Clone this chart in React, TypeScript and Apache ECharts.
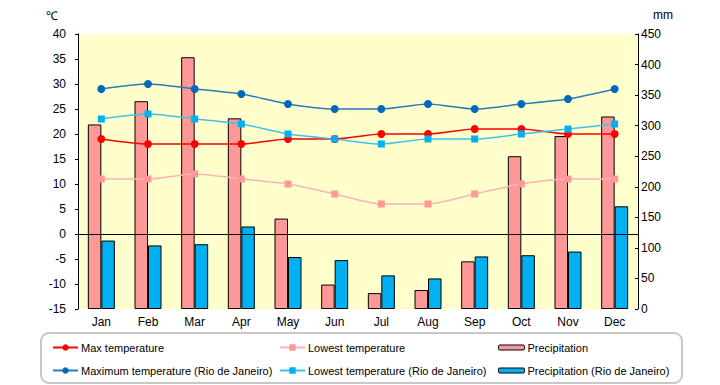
import React, { useEffect, useRef } from "react";
import * as echarts from "echarts";

const months = ["Jan", "Feb", "Mar", "Apr", "May", "Jun", "Jul", "Aug", "Sep", "Oct", "Nov", "Dec"];
const maxTemp = [19, 18, 18, 18, 19, 19, 20, 20, 21, 21, 20, 20];
const lowTemp = [11, 11, 12, 11, 10, 8, 6, 6, 8, 10, 11, 11];
const rioMaxTemp = [29, 30, 29, 28, 26, 25, 25, 26, 25, 26, 27, 29];
const rioLowTemp = [23, 24, 23, 22, 20, 19, 18, 19, 19, 20, 21, 22];
const precip = [302, 340, 412, 312, 148, 40, 26, 31, 78, 250, 283, 315];
const rioPrecip = [112, 104, 106, 135, 85, 80, 55, 50, 86, 88, 94, 168];

const FONT = "Liberation Sans";

export default function App() {
  const ref = useRef<HTMLDivElement>(null);
  useEffect(() => {
    document.body.style.margin = "0";
    const chart = echarts.init(ref.current!, undefined, { renderer: "svg" });
    const textStyle = { fontFamily: FONT, fontSize: 12, color: "#000" };
    const legendBase = {
      padding: 0,
      itemGap: 0,
      itemWidth: 25,
      itemHeight: 8,
      textStyle: { fontFamily: FONT, fontSize: 11, color: "#000", padding: [0, 0, 0, -2] },
      selectedMode: false,
    };
    const barLegend = {
      ...legendBase,
      itemWidth: 26,
      itemHeight: 5,
      itemStyle: { borderWidth: 1, borderColor: "#000" },
    };
    const lineSeries = (name: string, data: number[], color: string, lineColor: string, symbol: string, size: number) => ({
      name,
      type: "line",
      yAxisIndex: 0,
      data,
      smooth: 0.25,
      symbol,
      symbolSize: size,
      itemStyle: { color },
      lineStyle: { color: lineColor, width: 1.5 },
      z: 3,
    });
    chart.setOption({
      animation: false,
      textStyle,
      grid: {
        left: 78,
        right: 82,
        top: 34,
        bottom: 76,
        show: true,
        backgroundColor: "#ffffcc",
        borderWidth: 0,
      },
      xAxis: {
        type: "category",
        data: months,
        axisLine: { show: false },
        axisTick: { show: false },
        axisLabel: { ...textStyle, margin: 7 },
      },
      yAxis: [
        {
          type: "value",
          min: -15,
          max: 40,
          interval: 5,
          position: "left",
          splitLine: { show: false },
          axisLine: { show: true, lineStyle: { color: "#000", width: 1 } },
          axisTick: { show: true, length: 3, lineStyle: { color: "#000" } },
          axisLabel: { ...textStyle, margin: 12 },
        },
        {
          type: "value",
          min: 0,
          max: 450,
          interval: 50,
          position: "right",
          splitLine: { show: false },
          axisLine: { show: true, lineStyle: { color: "#000", width: 1 } },
          axisTick: { show: true, inside: true, length: 3, lineStyle: { color: "#000" } },
          axisLabel: { ...textStyle, margin: 3 },
        },
      ],
      legend: [
        { ...legendBase, left: 52, top: 342, data: ["Max temperature"] },
        { ...legendBase, left: 52, top: 365, data: ["Maximum temperature (Rio de Janeiro)"] },
        { ...legendBase, left: 279, top: 342, data: ["Lowest temperature"] },
        { ...legendBase, left: 279, top: 365, data: ["Lowest temperature (Rio de Janeiro)"] },
        { ...barLegend, left: 498, top: 342, data: ["Precipitation"] },
        { ...barLegend, left: 498, top: 365, data: ["Precipitation (Rio de Janeiro)"] },
      ],
      graphic: [
        {
          type: "rect",
          shape: { x: 41, y: 333, width: 641, height: 50, r: 8 },
          style: { fill: "none", stroke: "#c8c8c8", lineWidth: 2 },
          z: -1,
        },
        { type: "text", left: 46, top: 10, style: { text: "℃", font: `12px "${FONT}"`, fill: "#000" } },
        { type: "text", left: 653, top: 9, style: { text: "mm", font: `12px "${FONT}"`, fill: "#000" } },
      ],
      series: [
        {
          name: "Precipitation",
          type: "bar",
          yAxisIndex: 1,
          data: precip,
          barWidth: 13.5,
          barGap: "0%",
          itemStyle: { color: "#ff9999", borderColor: "#000", borderWidth: 1 },
          z: 2,
        },
        {
          name: "Precipitation (Rio de Janeiro)",
          type: "bar",
          yAxisIndex: 1,
          data: rioPrecip,
          barWidth: 13.5,
          barGap: "0%",
          itemStyle: { color: "#00b0f0", borderColor: "#000", borderWidth: 1 },
          z: 2,
          markLine: {
            silent: true,
            symbol: "none",
            label: { show: false },
            lineStyle: { color: "#000", width: 1, type: "solid" },
            data: [{ yAxis: 122.7272 }],
          },
        },
        lineSeries("Max temperature", maxTemp, "#ff0000", "#ff0000", "circle", 8),
        lineSeries("Lowest temperature", lowTemp, "#ff9999", "#ffb3b3", "rect", 7),
        lineSeries("Maximum temperature (Rio de Janeiro)", rioMaxTemp, "#0068b8", "#2a78c0", "circle", 8),
        lineSeries("Lowest temperature (Rio de Janeiro)", rioLowTemp, "#00b0f0", "#40c0f0", "rect", 7),
      ],
    });
    return () => chart.dispose();
  }, []);
  return <div ref={ref} style={{ width: 720, height: 385, position: "absolute", left: 0, top: 0 }} />;
}
